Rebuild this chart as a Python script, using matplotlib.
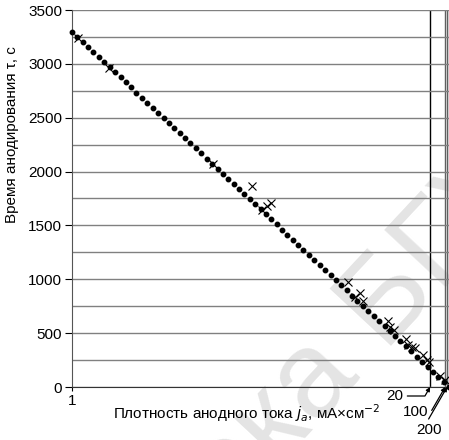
import matplotlib
matplotlib.use('Agg')
import matplotlib.pyplot as plt

plt.rcParams['font.family'] = ['Liberation Sans', 'DejaVu Sans']

# x is plotted as 1/j (cm2/mA), so j = 1 sits at the left edge
fit_inv_j = [1.000, 0.986, 0.971, 0.957, 0.943, 0.929, 0.914,
             0.900, 0.886, 0.871, 0.857, 0.843, 0.829, 0.814,
             0.800, 0.786, 0.771, 0.757, 0.743, 0.729, 0.714,
             0.700, 0.686, 0.671, 0.657, 0.643, 0.629, 0.614,
             0.600, 0.586, 0.571, 0.557, 0.543, 0.529, 0.514,
             0.500, 0.486, 0.471, 0.457, 0.443, 0.429, 0.414,
             0.400, 0.386, 0.371, 0.357, 0.343, 0.329, 0.314,
             0.300, 0.286, 0.271, 0.257, 0.243, 0.229, 0.214,
             0.200, 0.186, 0.171, 0.157, 0.143, 0.129, 0.114,
             0.100, 0.086, 0.071, 0.057, 0.043, 0.029, 0.014,
             0.000]
fit_tau = [3300, 3253, 3206, 3159, 3111, 3064, 3017,
           2970, 2923, 2876, 2829, 2781, 2734, 2687,
           2640, 2593, 2546, 2499, 2451, 2404, 2357,
           2310, 2263, 2216, 2169, 2121, 2074, 2027,
           1980, 1933, 1886, 1839, 1791, 1744, 1697,
           1650, 1603, 1556, 1509, 1461, 1414, 1367,
           1320, 1273, 1226, 1179, 1131, 1084, 1037,
           990, 943, 896, 849, 801, 754, 707,
           660, 613, 566, 519, 471, 424, 377,
           330, 283, 236, 189, 141, 94, 47,
           0]

exp_inv_j = [0.984, 0.902, 0.626, 0.523, 0.496, 0.484, 0.472,
             0.268, 0.249, 0.236, 0.228, 0.162, 0.156, 0.146,
             0.114, 0.109, 0.098, 0.090, 0.069, 0.058, 0.053,
             0.024, 0.011]
exp_tau = [3240, 2962, 2070, 1866, 1643, 1680, 1708,
           975, 836, 873, 798, 613, 557, 529,
           446, 390, 371, 362, 297, 251, 232,
           102, 65]

ref_labels = ['20', '100', '200']
ref_inv_j = [0.05, 0.01, 0.005]

fig = plt.figure(figsize=(4.49, 4.40), dpi=100)

# watermark of the scanned source, kept behind the axes
fig.text(0.43, -0.27, 'тека БГУИР', fontsize=88, color='#e4e4e4',
         rotation=47, rotation_mode='anchor', ha='left', va='baseline',
         zorder=-1)

ax = fig.add_axes([72 / 449, 53 / 440, 377 / 449, 377 / 440])
ax.set_facecolor('none')

ax.set_xlim(1, 0)
ax.set_ylim(0, 3500)

ax.set_yticks(range(0, 3501, 500))
ax.set_yticks(range(250, 3500, 500), minor=True)
ax.grid(axis='y', which='both', color='#808080', lw=1)
ax.tick_params(axis='y', which='major', length=5, width=0.8, labelsize=11, pad=2)
ax.tick_params(axis='y', which='minor', length=0)

ax.set_xticks([1])
ax.set_xticklabels(['1'])
ax.tick_params(axis='x', length=3, width=0.8, labelsize=11, pad=2)

for s in ['top', 'right']:
    ax.spines[s].set_visible(False)
ax.spines['left'].set_color('#555555')
ax.spines['bottom'].set_color('#333333')

for v, c in zip(ref_inv_j, ['black', '#606060', '#606060']):
    ax.axvline(v, color=c, lw=1, zorder=1)
ax.axvline(0, color='#808080', lw=1, zorder=1)

ax.plot(fit_inv_j, fit_tau, 'o', color='black', ms=3.2, zorder=3, clip_on=False)
ax.plot(exp_inv_j, exp_tau, 'x', color='black', ms=5.5, mew=0.8, zorder=4)

offsets = [(-27, -9), (-17, -25), (-5, -43)]
for lab, v, off in zip(ref_labels, ref_inv_j, offsets):
    ax.annotate(lab, xy=(v, 0), xytext=off, textcoords='offset pixels',
                ha='right', va='center', fontsize=11, annotation_clip=False,
                arrowprops=dict(arrowstyle='-|>', color='black', lw=0.9,
                                mutation_scale=6, shrinkA=1, shrinkB=0,
                                connectionstyle='angle,angleA=0,angleB=60,rad=0'))

ax.set_xlabel('Плотность анодного тока $j_a$, мА×см$^{-2}$', fontsize=11)
ax.xaxis.set_label_coords(0.464, -0.04)
ax.set_ylabel('Время анодирования τ, с', fontsize=11)
ax.yaxis.set_label_coords(-0.14, 0.67)

fig.savefig('out.png', dpi=100)
